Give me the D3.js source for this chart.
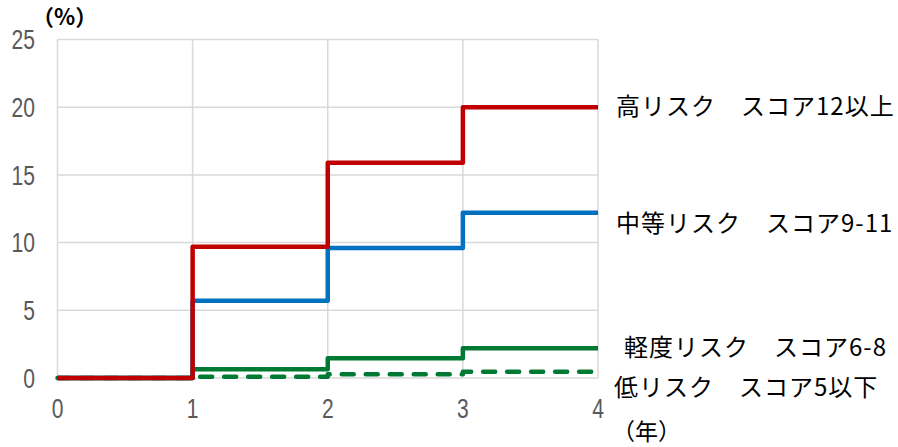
<!DOCTYPE html>
<html>
<head>
<meta charset="utf-8">
<script src="https://cdn.jsdelivr.net/npm/d3@7"></script>
<style>
  body { margin: 0; background: #fff; }
  .tick_label { font-family: "Liberation Sans", sans-serif; font-size: 27px; fill: #595959; }
  .legend_label { font-family: "Noto Sans CJK JP", sans-serif; font-size: 24px; letter-spacing: 1px; fill: #000; }
</style>
</head>
<body>
<div id="div_chart"></div>
<script>
// years on the x axis
const years = [0, 1, 2, 3, 4];
// cumulative rate (%) at each year, held until the next year
const highRisk = [0, 9.7, 15.9, 20.0, 20.0];
const midRisk = [0, 5.7, 9.6, 12.2, 12.2];
const mildRisk = [0, 0.65, 1.45, 2.2, 2.2];
const lowRisk = [0, 0.1, 0.28, 0.47, 0.47];
const seriesNames = ["高リスク　スコア12以上", "中等リスク　スコア9-11", "軽度リスク　スコア6-8", "低リスク　スコア5以下"];
const yTicks = [0, 5, 10, 15, 20, 25];
const xTicks = [0, 1, 2, 3, 4];

const width = 898, height = 447;
const margin = { top: 39.5, right: 300, bottom: 69, left: 57.5 };

const svg = d3.select("#div_chart")
  .append("svg")
  .attr("width", width)
  .attr("height", height);

const x = d3.scaleLinear().domain([0, 4]).range([margin.left, width - margin.right]);
const y = d3.scaleLinear().domain([0, 25]).range([height - margin.bottom, margin.top]);

// grid: horizontal lines
svg.append("g")
  .selectAll("line")
  .data(yTicks)
  .join("line")
  .attr("x1", x(0)).attr("x2", x(4))
  .attr("y1", d => y(d)).attr("y2", d => y(d))
  .style("stroke", "#d9d9d9")
  .style("stroke-width", 1.5);

// grid: vertical lines
svg.append("g")
  .selectAll("line")
  .data(xTicks)
  .join("line")
  .attr("x1", d => x(d)).attr("x2", d => x(d))
  .attr("y1", y(0)).attr("y2", y(25))
  .style("stroke", "#d9d9d9")
  .style("stroke-width", 1.5);

// tick labels (squeezed horizontally to look condensed)
svg.append("g")
  .selectAll("text")
  .data(yTicks)
  .join("text")
  .attr("class", "tick_label")
  .attr("transform", d => `translate(35, ${y(d)}) scale(0.78, 1)`)
  .attr("dy", "0.36em")
  .attr("text-anchor", "end")
  .text(d => d);

svg.append("g")
  .selectAll("text")
  .data(xTicks)
  .join("text")
  .attr("class", "tick_label")
  .attr("transform", d => `translate(${x(d)}, 408) scale(0.78, 1)`)
  .attr("dy", "0.36em")
  .attr("text-anchor", "middle")
  .text(d => d);

// step lines
const step = d3.line()
  .x((d, i) => x(years[i]))
  .y(d => y(d))
  .curve(d3.curveStepAfter);

const lines = [
  { values: lowRisk, color: "#007a33", dash: "12,12" },
  { values: mildRisk, color: "#007a33", dash: null },
  { values: midRisk, color: "#0070c0", dash: null },
  { values: highRisk, color: "#c00000", dash: null }
];

svg.append("g")
  .selectAll("path")
  .data(lines)
  .join("path")
  .attr("d", d => step(d.values))
  .style("fill", "none")
  .style("stroke", d => d.color)
  .style("stroke-width", 4.5)
  .style("stroke-linejoin", "round")
  .style("stroke-linecap", d => d.dash ? "round" : "butt")
  .style("stroke-dasharray", d => d.dash);

// labels on the right
const labelPos = [
  { x: 616, y: 106 },
  { x: 616, y: 223 },
  { x: 624, y: 347 },
  { x: 614, y: 387 }
];
svg.append("g")
  .selectAll("text")
  .data(seriesNames)
  .join("text")
  .attr("class", "legend_label")
  .attr("x", (d, i) => labelPos[i].x)
  .attr("y", (d, i) => labelPos[i].y)
  .attr("dy", "0.36em")
  .text(d => d);

// unit labels
svg.append("text")
  .attr("class", "legend_label")
  .attr("x", 32)
  .attr("y", 17)
  .attr("dy", "0.36em")
  .style("font-size", "22px")
  .style("font-weight", "bold")
  .style("letter-spacing", "0px")
  .text("（%）");

svg.append("text")
  .attr("class", "legend_label")
  .attr("x", 612)
  .attr("y", 432)
  .attr("dy", "0.36em")
  .style("font-size", "23px")
  .style("letter-spacing", "0px")
  .text("（年）");
</script>
</body>
</html>
